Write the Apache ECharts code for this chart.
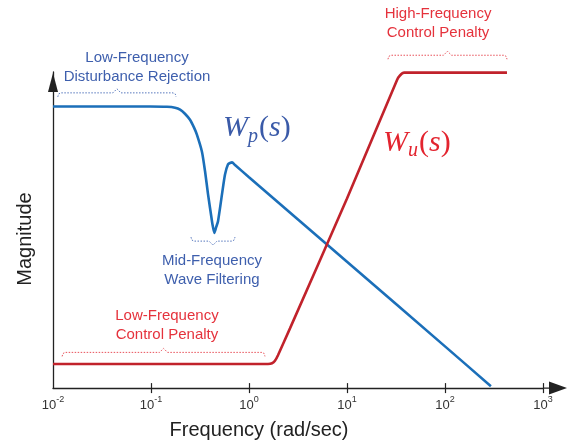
<!DOCTYPE html>
<html>
<head>
<meta charset="utf-8">
<script src="https://cdn.jsdelivr.net/npm/echarts@6/dist/echarts.min.js"></script>
<style>
  html, body { margin: 0; padding: 0; background: #fff; }
  #main { width: 574px; height: 445px; }
</style>
</head>
<body>
<div id="main"></div>
<script>
// decade labels and ticks of the frequency axis
var decades = [0.01, 0.1, 1, 10, 100, 1000];
var tickFreq = [0.1, 1, 10, 100, 1000];

// Wp(s): performance weight
var wpFreq = [0.01, 0.0977, 0.1455, 0.176, 0.198, 0.222, 0.250, 0.275, 0.294, 0.331, 0.356, 0.382, 0.419, 0.425, 0.443, 0.462, 0.483, 0.530, 0.569, 0.611, 0.640, 0.671, 0.72, 1, 10, 100, 294];
var wpMag = [89.1, 89.1, 89.0, 88.7, 88.1, 86.8, 84.9, 82.4, 80.2, 74.8, 68.6, 61.3, 52.8, 51.6, 49.1, 50.9, 52.8, 61.3, 67.6, 70.8, 71.2, 71.4, 70.6, 66.7, 40.0, 13.2, 0.6];

// Wu(s): control weight
var wuFreq = [0.01, 1.563, 1.718, 1.841, 1.976, 2.62, 10, 32.4, 34.7, 38.2, 429];
var wuMag = [7.64, 7.64, 7.86, 8.65, 10.4, 18.9, 60, 97.5, 98.9, 99.8, 99.8];

// annotation texts and braces (frequency, magnitude)
var notes = [
  { text: 'Low-Frequency\nDisturbance Rejection', at: [0.072, 101.4], c: 'blue' },
  { text: 'Mid-Frequency\nWave Filtering', at: [0.419, 37.1], c: 'blue' },
  { text: 'Low-Frequency\nControl Penalty', at: [0.1455, 20.0], c: 'red' },
  { text: 'High-Frequency\nControl Penalty', at: [84.9, 115.3], c: 'red' }
];
var braces = [
  { from: 0.0112, to: 0.180, mag: 93.4, up: true, c: 'blue' },
  { from: 0.256, to: 0.719, mag: 46.5, up: false, c: 'blue' },
  { from: 0.0124, to: 1.455, mag: 11.3, up: true, c: 'red' },
  { from: 26.2, to: 429, mag: 105.3, up: true, c: 'red' }
];
var curveLabels = [
  { sub: 'p', at: [0.543, 82.1], c: 'blue' },
  { sub: 'u', at: [23.3, 77.5], c: 'red' }
];

var lineBlue = '#1b6fb9';
var lineRed = '#c1222b';
var textCol = { blue: '#3e5fad', red: '#e5323c' };
var braceCol = { blue: '#5677bd', red: '#e8515a' };
var axisCol = '#222';

var myChart = echarts.init(document.getElementById('main'));

function pairs(xs, ys) {
  return xs.map(function (x, i) { return [x, ys[i]]; });
}

var option = {
  animation: false,
  backgroundColor: '#fff',
  grid: { left: 53, right: 31, top: 72, bottom: 55 },
  xAxis: [{
    type: 'log',
    logBase: 10,
    min: 0.01,
    max: 1000,
    name: 'Frequency (rad/sec)',
    nameLocation: 'middle',
    nameGap: 29,
    nameTextStyle: { fontSize: 20, color: '#222', fontFamily: 'Liberation Sans', padding: [0, 78, 0, 0] },
    axisLine: {
      lineStyle: { color: axisCol, width: 1.3 },
      symbol: ['none', 'path://M6.5,0 L13,18 L7.1,18 L7.1,24 L5.9,24 L5.9,18 L0,18 Z'],
      symbolSize: [13, 24],
      symbolOffset: [0, 12]
    },
    axisTick: { show: true, inside: false, length: 5, customValues: tickFreq, lineStyle: { color: axisCol, width: 1.2 } },
    axisLabel: {
      customValues: decades,
      margin: 7,
      color: '#333',
      fontFamily: 'Liberation Sans',
      fontSize: 13,
      lineHeight: 20,
      formatter: function (v) {
        return '10{sup|' + Math.round(Math.log10(v)) + '}';
      },
      rich: {
        sup: { fontSize: 9, lineHeight: 11, verticalAlign: 'top', color: '#333', fontFamily: 'Liberation Sans' }
      }
    },
    splitLine: { show: false },
    minorTick: { show: false }
  }, {
    type: 'log',
    logBase: 10,
    min: 0.01,
    max: 1000,
    position: 'bottom',
    axisLine: { show: false },
    axisTick: { show: true, inside: true, length: 5, customValues: tickFreq, lineStyle: { color: axisCol, width: 1.2 } },
    axisLabel: { show: false },
    splitLine: { show: false }
  }],
  yAxis: {
    type: 'value',
    min: 0,
    max: 100,
    name: 'Magnitude',
    nameLocation: 'middle',
    nameGap: 18,
    nameTextStyle: { fontSize: 20, color: '#222', fontFamily: 'Liberation Sans', padding: [0, 18, 0, 0] },
    axisLine: {
      show: true,
      lineStyle: { color: axisCol, width: 1.3 },
      symbol: ['none', 'path://M5,0 L10,19 L0,19 Z'],
      symbolSize: [10, 19],
      symbolOffset: [0, -10.5]
    },
    axisTick: { show: false },
    axisLabel: { show: false },
    splitLine: { show: false }
  },
  series: [{
    name: 'Wp',
    type: 'line',
    xAxisIndex: 0,
    data: pairs(wpFreq, wpMag),
    showSymbol: false,
    smooth: 0.2,
    clip: false,
    lineStyle: { color: lineBlue, width: 2.6 },
    z: 3
  }, {
    name: 'Wu',
    type: 'line',
    xAxisIndex: 0,
    data: pairs(wuFreq, wuMag),
    showSymbol: false,
    smooth: 0.2,
    clip: false,
    lineStyle: { color: lineRed, width: 2.6 },
    z: 3
  }]
};
myChart.setOption(option);

function px(f, m) {
  return myChart.convertToPixel({ xAxisIndex: 0, yAxisIndex: 0 }, [f, m]);
}

var graphics = [];
braces.forEach(function (b) {
  var p1 = px(b.from, b.mag), p2 = px(b.to, b.mag);
  var y = p1[1], x1 = p1[0], x2 = p2[0], xm = (x1 + x2) / 2;
  var s = b.up ? 1 : -1;
  graphics.push({
    type: 'polyline',
    silent: true,
    shape: {
      points: [[x1, y + 4 * s], [x1 + 0.7, y + 1.2 * s], [x1 + 3, y], [xm - 4, y], [xm, y - 4 * s],
        [xm + 4, y], [x2 - 3, y], [x2 - 0.7, y + 1.2 * s], [x2, y + 4 * s]]
    },
    style: { stroke: braceCol[b.c], lineWidth: 1, lineDash: [1.5, 1.5], fill: null }
  });
});
notes.forEach(function (n) {
  var p = px(n.at[0], n.at[1]);
  graphics.push({
    type: 'text',
    silent: true,
    style: {
      text: n.text, x: p[0], y: p[1], align: 'center', verticalAlign: 'middle',
      fontSize: 15, lineHeight: 19, fontFamily: 'Liberation Sans', fill: textCol[n.c]
    }
  });
});
curveLabels.forEach(function (l) {
  var p = px(l.at[0], l.at[1]);
  var col = l.c === 'blue' ? '#3a5aa8' : '#e3242f';
  var base = { fontFamily: 'Liberation Serif', fontSize: 30, lineHeight: 36, fill: col };
  graphics.push({
    type: 'text',
    silent: true,
    style: {
      text: '{w|W}{s|' + l.sub + '}{pa|(}{w|s}{pa|)}',
      x: p[0], y: p[1], align: 'left', verticalAlign: 'middle',
      rich: {
        w: Object.assign({ fontStyle: 'italic' }, base),
        pa: Object.assign({}, base),
        s: { fontFamily: 'Liberation Serif', fontStyle: 'italic', fontSize: 20, lineHeight: 20, verticalAlign: 'bottom', fill: col, padding: [0, 1, 0, 0] }
      }
    }
  });
});
myChart.setOption({ graphic: graphics });
</script>
</body>
</html>
